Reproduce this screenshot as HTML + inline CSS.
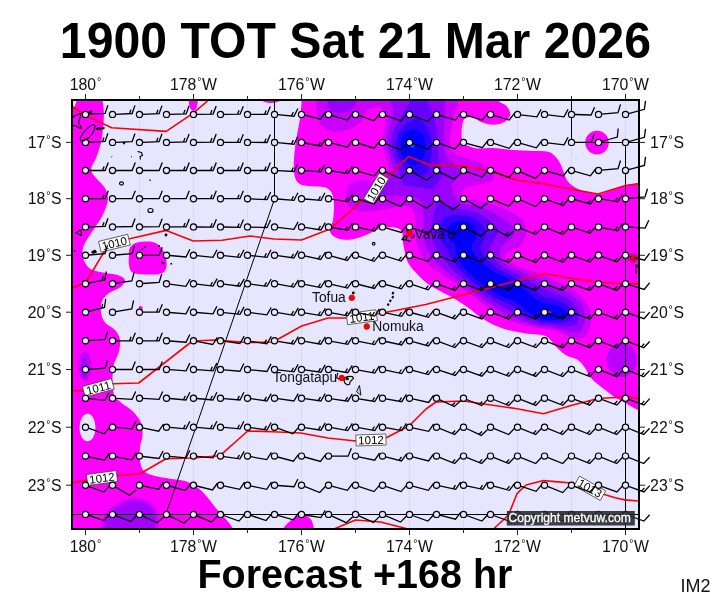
<!DOCTYPE html>
<html lang="en"><head><meta charset="utf-8"><title>1900 TOT Sat 21 Mar 2026 Forecast +168 hr</title>
<style>html,body{margin:0;padding:0;background:#fff}svg{display:block}</style></head>
<body>
<svg width="711" height="600" viewBox="0 0 711 600">
<defs>
<clipPath id="fr"><rect x="72" y="100" width="567" height="429"/></clipPath>
<clipPath id="mg"><path d="M301.7,85.0C269.6,87.5 302.0,94.5 301.7,100.0C301.4,105.5 301.1,110.0 300.0,118.0C298.9,126.0 296.0,139.1 295.0,148.0C294.0,156.9 293.4,165.5 294.0,171.3C294.6,177.1 295.6,180.5 298.3,183.0C301.0,185.5 305.3,185.5 310.0,186.3C314.7,187.1 322.8,186.1 326.7,188.0C330.6,189.9 332.2,193.0 333.3,198.0C334.4,203.0 333.9,212.4 333.3,218.0C332.8,223.6 329.4,228.0 330.0,231.3C330.6,234.6 333.4,236.6 336.7,238.0C340.0,239.4 345.0,240.2 350.0,239.7C355.0,239.1 361.7,236.5 366.7,234.7C371.7,232.9 375.6,229.9 380.0,228.7C384.4,227.5 389.7,226.9 393.3,227.3C396.9,227.7 400.0,228.4 401.7,231.3C403.4,234.2 402.2,239.5 403.3,244.7C404.4,249.9 405.6,257.4 408.0,262.5C410.4,267.6 414.7,271.4 418.0,275.0C421.3,278.6 424.3,281.3 428.0,284.0C431.7,286.7 435.5,288.5 440.0,291.0C444.5,293.5 450.0,296.0 455.0,299.0C460.0,302.0 465.8,306.0 470.0,309.0C474.2,312.0 476.3,314.5 480.0,317.0C483.7,319.5 487.3,321.8 492.0,324.0C496.7,326.2 502.0,328.4 508.0,330.0C514.0,331.6 521.8,332.7 528.0,333.7C534.2,334.7 540.9,333.9 545.5,336.0C550.1,338.1 552.2,342.8 555.5,346.0C558.8,349.2 561.8,352.7 565.5,355.0C569.2,357.3 574.7,357.7 578.0,360.0C581.3,362.3 583.4,365.8 585.5,368.7C587.6,371.6 588.1,374.6 590.5,377.5C592.9,380.4 596.1,382.8 600.0,386.0C603.9,389.2 609.5,393.5 614.0,396.5C618.5,399.5 623.0,401.8 627.0,404.0C631.0,406.2 633.3,408.0 638.0,410.0C642.7,412.0 651.3,434.3 655.0,416.0C658.7,397.7 660.0,338.7 660.0,300.0C660.0,261.3 658.7,203.3 655.0,184.0C651.3,164.7 642.9,183.8 638.0,184.0C633.1,184.2 630.1,184.4 625.5,185.5C620.9,186.6 614.7,189.1 610.5,190.5C606.3,191.9 603.8,193.6 600.5,194.0C597.2,194.4 594.2,193.8 590.5,193.0C586.8,192.2 581.8,190.9 578.0,189.0C574.2,187.1 570.3,184.4 568.0,181.7C565.7,179.0 565.2,175.9 564.0,173.0C562.8,170.1 561.9,166.7 560.5,164.0C559.1,161.3 557.6,158.8 555.5,156.7C553.4,154.6 551.8,152.6 548.0,151.7C544.2,150.8 538.8,151.3 533.0,151.0C527.2,150.7 519.7,150.5 513.0,150.0C506.3,149.5 498.8,148.2 493.0,148.0C487.2,147.8 481.8,148.8 478.0,148.5C474.2,148.2 472.5,147.5 470.0,146.5C467.5,145.5 464.4,144.9 463.0,142.3C461.6,139.7 461.4,134.8 461.6,131.0C461.8,127.2 462.3,121.8 464.0,119.5C465.7,117.2 469.0,116.6 471.8,117.0C474.6,117.4 478.0,120.8 481.0,122.0C484.0,123.2 487.0,124.2 490.0,124.5C493.0,124.8 496.2,124.7 499.0,124.0C501.8,123.3 504.8,122.2 506.7,120.5C508.6,118.8 510.3,116.4 510.3,114.0C510.3,111.6 508.6,108.3 506.5,106.0C504.4,103.7 500.1,103.5 498.0,100.0C495.9,96.5 526.7,87.5 494.0,85.0C461.3,82.5 333.8,82.5 301.7,85.0Z"/><path d="M60.0,90.0C67.2,15.0 95.9,88.3 103.0,90.0C110.1,91.7 102.5,96.8 102.6,100.0C102.7,103.2 103.5,105.6 103.7,109.0C103.9,112.4 103.9,116.7 103.7,120.5C103.5,124.3 103.0,128.1 102.6,131.8C102.1,135.6 102.0,138.8 101.0,143.0C100.0,147.2 98.1,152.3 96.5,157.0C94.9,161.7 90.2,166.5 91.5,171.4C92.8,176.3 101.2,182.0 104.0,186.6C106.8,191.2 108.2,194.3 108.0,199.0C107.8,203.7 105.1,209.8 103.0,214.5C100.9,219.2 98.3,222.2 95.3,227.0C92.3,231.8 87.1,238.8 85.0,243.0C82.9,247.2 82.7,249.2 82.5,252.0C82.3,254.8 82.5,257.2 83.7,260.0C85.0,262.8 86.9,266.6 90.0,268.7C93.1,270.8 97.9,271.4 102.5,272.5C107.1,273.6 113.8,273.8 117.5,275.0C121.2,276.2 124.6,277.9 125.0,280.0C125.4,282.1 122.5,285.4 120.0,287.5C117.5,289.6 112.9,290.4 110.0,292.5C107.1,294.6 104.0,296.7 102.5,300.0C101.0,303.3 100.6,308.8 101.0,312.5C101.4,316.2 102.7,319.6 105.0,322.5C107.3,325.4 112.5,327.1 115.0,330.0C117.5,332.9 119.4,336.2 120.0,340.0C120.6,343.8 119.8,348.3 118.7,352.5C117.7,356.7 114.7,360.4 113.7,365.0C112.7,369.6 112.6,375.8 112.5,380.0C112.4,384.2 112.8,387.2 113.2,390.0C113.6,392.8 113.5,394.7 115.0,397.0C116.5,399.3 119.6,401.4 122.5,403.7C125.4,406.0 129.4,407.9 132.5,411.0C135.6,414.1 139.3,418.5 141.0,422.5C142.7,426.5 142.7,430.8 142.5,435.0C142.3,439.2 140.4,443.3 140.0,447.5C139.6,451.7 139.4,456.1 140.0,460.0C140.6,463.9 141.2,468.3 143.7,471.0C146.2,473.7 150.6,474.7 155.0,476.0C159.4,477.3 165.0,477.9 170.0,478.7C175.0,479.5 180.4,479.5 185.0,481.0C189.6,482.5 193.8,484.8 197.5,487.5C201.2,490.2 204.2,493.8 207.5,497.5C210.8,501.2 214.2,506.1 217.5,510.0C220.8,513.9 225.0,518.0 227.5,521.0C230.0,524.0 230.8,524.8 232.5,528.0C234.2,531.2 266.8,538.0 238.0,540.0C209.2,542.0 89.7,615.0 60.0,540.0C30.3,465.0 52.8,165.0 60.0,90.0Z"/></clipPath>
<filter id="b1" x="-20%" y="-20%" width="140%" height="140%"><feGaussianBlur stdDeviation="1.6"/></filter>
<filter id="b2" x="-20%" y="-20%" width="140%" height="140%"><feGaussianBlur stdDeviation="2.2"/></filter>
<filter id="b0" x="-20%" y="-20%" width="140%" height="140%"><feGaussianBlur stdDeviation="0.6"/></filter>
</defs>
<rect width="711" height="600" fill="#fff"/>
<g clip-path="url(#fr)">
<rect x="72" y="100" width="567" height="429" fill="#e6e6ff"/>
<path d="M85.5,100V529M139.5,100V529M193.5,100V529M247.5,100V529M301.5,100V529M355.5,100V529M409.5,100V529M463.5,100V529M517.5,100V529M571.5,100V529M625.5,100V529" stroke="#9090a8" stroke-width="1" stroke-dasharray="1,1" fill="none" opacity="0.3"/>
<g fill="#ff00ff">
<path d="M60.0,90.0C67.2,15.0 95.9,88.3 103.0,90.0C110.1,91.7 102.5,96.8 102.6,100.0C102.7,103.2 103.5,105.6 103.7,109.0C103.9,112.4 103.9,116.7 103.7,120.5C103.5,124.3 103.0,128.1 102.6,131.8C102.1,135.6 102.0,138.8 101.0,143.0C100.0,147.2 98.1,152.3 96.5,157.0C94.9,161.7 90.2,166.5 91.5,171.4C92.8,176.3 101.2,182.0 104.0,186.6C106.8,191.2 108.2,194.3 108.0,199.0C107.8,203.7 105.1,209.8 103.0,214.5C100.9,219.2 98.3,222.2 95.3,227.0C92.3,231.8 87.1,238.8 85.0,243.0C82.9,247.2 82.7,249.2 82.5,252.0C82.3,254.8 82.5,257.2 83.7,260.0C85.0,262.8 86.9,266.6 90.0,268.7C93.1,270.8 97.9,271.4 102.5,272.5C107.1,273.6 113.8,273.8 117.5,275.0C121.2,276.2 124.6,277.9 125.0,280.0C125.4,282.1 122.5,285.4 120.0,287.5C117.5,289.6 112.9,290.4 110.0,292.5C107.1,294.6 104.0,296.7 102.5,300.0C101.0,303.3 100.6,308.8 101.0,312.5C101.4,316.2 102.7,319.6 105.0,322.5C107.3,325.4 112.5,327.1 115.0,330.0C117.5,332.9 119.4,336.2 120.0,340.0C120.6,343.8 119.8,348.3 118.7,352.5C117.7,356.7 114.7,360.4 113.7,365.0C112.7,369.6 112.6,375.8 112.5,380.0C112.4,384.2 112.8,387.2 113.2,390.0C113.6,392.8 113.5,394.7 115.0,397.0C116.5,399.3 119.6,401.4 122.5,403.7C125.4,406.0 129.4,407.9 132.5,411.0C135.6,414.1 139.3,418.5 141.0,422.5C142.7,426.5 142.7,430.8 142.5,435.0C142.3,439.2 140.4,443.3 140.0,447.5C139.6,451.7 139.4,456.1 140.0,460.0C140.6,463.9 141.2,468.3 143.7,471.0C146.2,473.7 150.6,474.7 155.0,476.0C159.4,477.3 165.0,477.9 170.0,478.7C175.0,479.5 180.4,479.5 185.0,481.0C189.6,482.5 193.8,484.8 197.5,487.5C201.2,490.2 204.2,493.8 207.5,497.5C210.8,501.2 214.2,506.1 217.5,510.0C220.8,513.9 225.0,518.0 227.5,521.0C230.0,524.0 230.8,524.8 232.5,528.0C234.2,531.2 266.8,538.0 238.0,540.0C209.2,542.0 89.7,615.0 60.0,540.0C30.3,465.0 52.8,165.0 60.0,90.0Z"/>
<path d="M301.7,85.0C269.6,87.5 302.0,94.5 301.7,100.0C301.4,105.5 301.1,110.0 300.0,118.0C298.9,126.0 296.0,139.1 295.0,148.0C294.0,156.9 293.4,165.5 294.0,171.3C294.6,177.1 295.6,180.5 298.3,183.0C301.0,185.5 305.3,185.5 310.0,186.3C314.7,187.1 322.8,186.1 326.7,188.0C330.6,189.9 332.2,193.0 333.3,198.0C334.4,203.0 333.9,212.4 333.3,218.0C332.8,223.6 329.4,228.0 330.0,231.3C330.6,234.6 333.4,236.6 336.7,238.0C340.0,239.4 345.0,240.2 350.0,239.7C355.0,239.1 361.7,236.5 366.7,234.7C371.7,232.9 375.6,229.9 380.0,228.7C384.4,227.5 389.7,226.9 393.3,227.3C396.9,227.7 400.0,228.4 401.7,231.3C403.4,234.2 402.2,239.5 403.3,244.7C404.4,249.9 405.6,257.4 408.0,262.5C410.4,267.6 414.7,271.4 418.0,275.0C421.3,278.6 424.3,281.3 428.0,284.0C431.7,286.7 435.5,288.5 440.0,291.0C444.5,293.5 450.0,296.0 455.0,299.0C460.0,302.0 465.8,306.0 470.0,309.0C474.2,312.0 476.3,314.5 480.0,317.0C483.7,319.5 487.3,321.8 492.0,324.0C496.7,326.2 502.0,328.4 508.0,330.0C514.0,331.6 521.8,332.7 528.0,333.7C534.2,334.7 540.9,333.9 545.5,336.0C550.1,338.1 552.2,342.8 555.5,346.0C558.8,349.2 561.8,352.7 565.5,355.0C569.2,357.3 574.7,357.7 578.0,360.0C581.3,362.3 583.4,365.8 585.5,368.7C587.6,371.6 588.1,374.6 590.5,377.5C592.9,380.4 596.1,382.8 600.0,386.0C603.9,389.2 609.5,393.5 614.0,396.5C618.5,399.5 623.0,401.8 627.0,404.0C631.0,406.2 633.3,408.0 638.0,410.0C642.7,412.0 651.3,434.3 655.0,416.0C658.7,397.7 660.0,338.7 660.0,300.0C660.0,261.3 658.7,203.3 655.0,184.0C651.3,164.7 642.9,183.8 638.0,184.0C633.1,184.2 630.1,184.4 625.5,185.5C620.9,186.6 614.7,189.1 610.5,190.5C606.3,191.9 603.8,193.6 600.5,194.0C597.2,194.4 594.2,193.8 590.5,193.0C586.8,192.2 581.8,190.9 578.0,189.0C574.2,187.1 570.3,184.4 568.0,181.7C565.7,179.0 565.2,175.9 564.0,173.0C562.8,170.1 561.9,166.7 560.5,164.0C559.1,161.3 557.6,158.8 555.5,156.7C553.4,154.6 551.8,152.6 548.0,151.7C544.2,150.8 538.8,151.3 533.0,151.0C527.2,150.7 519.7,150.5 513.0,150.0C506.3,149.5 498.8,148.2 493.0,148.0C487.2,147.8 481.8,148.8 478.0,148.5C474.2,148.2 472.5,147.5 470.0,146.5C467.5,145.5 464.4,144.9 463.0,142.3C461.6,139.7 461.4,134.8 461.6,131.0C461.8,127.2 462.3,121.8 464.0,119.5C465.7,117.2 469.0,116.6 471.8,117.0C474.6,117.4 478.0,120.8 481.0,122.0C484.0,123.2 487.0,124.2 490.0,124.5C493.0,124.8 496.2,124.7 499.0,124.0C501.8,123.3 504.8,122.2 506.7,120.5C508.6,118.8 510.3,116.4 510.3,114.0C510.3,111.6 508.6,108.3 506.5,106.0C504.4,103.7 500.1,103.5 498.0,100.0C495.9,96.5 526.7,87.5 494.0,85.0C461.3,82.5 333.8,82.5 301.7,85.0Z"/>
<path d="M130.0,247.5C131.4,245.4 133.8,243.4 137.5,242.5C141.2,241.6 148.6,241.2 152.5,242.0C156.4,242.8 158.8,244.9 161.0,247.5C163.2,250.1 165.2,254.0 166.0,257.5C166.8,261.0 167.0,266.0 166.0,268.7C165.0,271.4 163.5,272.7 160.0,273.7C156.5,274.7 149.6,274.7 145.0,274.5C140.4,274.3 135.2,274.1 132.5,272.5C129.8,270.9 129.6,267.9 129.0,265.0C128.4,262.1 128.8,257.9 129.0,255.0C129.2,252.1 128.6,249.6 130.0,247.5Z"/>
<path d="M280.0,540.0C274.5,538.1 280.8,532.2 283.0,528.7C285.2,525.2 289.9,521.0 293.0,518.7C296.1,516.4 298.8,515.0 301.7,515.0C304.6,515.0 308.4,516.4 310.5,518.7C312.6,521.0 313.1,525.2 314.0,528.7C314.9,532.2 321.7,538.1 316.0,540.0C310.3,541.9 285.5,541.9 280.0,540.0Z"/>
<ellipse cx="193.3" cy="100" rx="4.6" ry="10.8"/>
<ellipse cx="271" cy="100" rx="9" ry="3"/>
<circle cx="140.7" cy="308" r="2"/>
<circle cx="597" cy="142.6" r="11.8"/>
</g>
<ellipse cx="87.5" cy="427.5" rx="8.0" ry="13.7" fill="#e6e6ff"/>
<path d="M73,101h3.6l-2,5.6l-1.6,0.6z" fill="#dde6e0"/>
<g clip-path="url(#mg)">
<g filter="url(#b0)">
<path d="M316.0,40.0C292.3,50.0 315.8,87.4 316.0,100.0C316.2,112.6 316.4,111.0 317.5,115.5C318.6,120.0 319.6,124.0 322.5,126.7C325.4,129.4 330.4,131.3 335.0,131.7C339.6,132.1 345.8,130.4 350.0,129.0C354.2,127.5 357.5,125.7 360.0,123.0C362.5,120.3 363.0,115.5 365.0,113.0C367.0,110.5 369.5,108.8 372.0,108.0C374.5,107.2 377.7,106.8 380.0,108.0C382.3,109.2 385.3,111.3 386.0,115.0C386.7,118.7 384.6,125.3 384.0,130.0C383.4,134.7 382.3,138.8 382.5,143.0C382.7,147.2 384.1,151.7 385.0,155.0C385.9,158.3 387.5,160.5 388.0,163.0C388.5,165.5 389.3,167.8 388.0,170.0C386.7,172.2 382.7,174.2 380.0,176.0C377.3,177.8 374.9,179.8 372.0,180.5C369.1,181.2 366.0,179.6 362.5,180.0C359.0,180.4 353.7,181.3 351.0,183.0C348.3,184.7 347.1,186.8 346.5,190.0C345.9,193.2 346.7,198.8 347.5,202.0C348.3,205.2 349.0,207.4 351.5,209.0C354.0,210.6 358.2,211.2 362.5,211.5C366.8,211.8 372.3,211.1 377.0,210.5C381.7,209.9 386.3,208.8 390.6,208.0C394.9,207.2 399.6,206.0 403.0,206.0C406.4,206.0 409.0,206.3 411.0,208.0C413.0,209.7 414.2,212.7 415.0,216.0C415.8,219.3 415.3,224.3 415.5,228.0C415.7,231.7 415.6,234.8 416.0,238.0C416.4,241.2 417.0,244.0 418.0,247.0C419.0,250.0 420.2,253.0 422.0,256.0C423.8,259.0 426.5,262.4 429.0,265.0C431.5,267.6 434.2,269.4 437.0,271.5C439.8,273.6 442.5,275.2 446.0,277.5C449.5,279.8 454.0,282.2 458.0,285.0C462.0,287.8 465.8,290.8 470.0,294.0C474.2,297.2 478.5,300.7 483.0,304.0C487.5,307.3 492.2,311.1 497.0,314.0C501.8,316.9 505.7,319.2 512.0,321.5C518.3,323.8 528.2,326.1 535.0,327.5C541.8,328.9 547.9,328.8 553.0,330.0C558.1,331.2 561.3,333.5 565.5,335.0C569.7,336.5 574.6,339.0 578.0,339.0C581.4,339.0 583.9,337.3 586.0,335.0C588.1,332.7 589.8,328.8 590.5,325.0C591.2,321.2 591.4,316.2 590.5,312.0C589.6,307.8 587.6,303.5 585.0,300.0C582.4,296.5 579.1,293.8 575.0,291.0C570.9,288.2 565.8,285.7 560.5,283.0C555.2,280.3 548.4,277.2 543.0,275.0C537.6,272.8 532.7,271.7 528.0,270.0C523.3,268.3 518.5,266.7 515.0,265.0C511.5,263.3 508.7,261.7 507.0,260.0C505.3,258.3 504.5,256.5 505.0,255.0C505.5,253.5 507.7,252.3 510.0,251.0C512.3,249.7 516.7,248.8 519.0,247.0C521.3,245.2 522.8,242.8 524.0,240.0C525.2,237.2 526.3,233.5 526.0,230.0C525.7,226.5 524.8,222.2 522.0,219.0C519.2,215.8 513.8,213.4 509.0,211.0C504.2,208.6 498.2,206.3 493.0,204.5C487.8,202.7 482.5,200.9 478.0,200.0C473.5,199.1 468.7,200.2 466.0,199.0C463.3,197.8 461.8,194.4 462.0,192.5C462.2,190.6 464.4,188.6 467.0,187.3C469.6,186.0 473.7,185.5 477.4,184.7C481.1,183.8 486.4,183.6 489.2,182.2C492.0,180.8 494.0,178.6 494.3,176.3C494.6,174.1 493.7,171.1 490.9,168.7C488.1,166.3 481.9,163.9 477.4,161.9C472.9,159.9 468.1,158.7 463.9,156.9C459.7,155.1 454.3,153.8 452.0,151.0C449.7,148.2 450.0,144.3 450.0,140.0C450.0,135.7 451.0,130.0 452.0,125.0C453.0,120.0 455.0,114.2 456.0,110.0C457.0,105.8 457.7,111.7 458.0,100.0C458.3,88.3 481.7,50.0 458.0,40.0C434.3,30.0 339.7,30.0 316.0,40.0Z" fill="#cc00ff"/>
<ellipse cx="621.7" cy="360.0" rx="15.0" ry="17.0" fill="#bb00ff"/>
<ellipse cx="85.2" cy="366.0" rx="6.5" ry="15.0" fill="#c800ff"/>
<ellipse cx="84.2" cy="368.0" rx="3.6" ry="10.5" fill="#a000ff"/>
<path d="M101.0,540.0C91.6,538.0 100.3,532.2 101.0,528.0C101.7,523.8 102.7,518.8 105.0,515.0C107.3,511.2 110.8,507.7 115.0,505.0C119.2,502.3 125.0,499.5 130.0,498.7C135.0,497.9 140.8,498.5 145.0,500.0C149.2,501.5 152.7,504.6 155.0,507.5C157.3,510.4 158.3,514.1 158.7,517.5C159.1,520.9 157.7,524.2 157.5,528.0C157.3,531.8 166.9,538.0 157.5,540.0C148.1,542.0 110.4,542.0 101.0,540.0Z" fill="#cc00ff"/>
</g>
<path d="M104.0,540.0C95.6,538.0 103.3,531.9 104.0,528.0C104.7,524.1 105.8,519.9 108.0,516.5C110.2,513.1 113.3,510.0 117.0,507.5C120.7,505.0 125.5,502.3 130.0,501.5C134.5,500.7 140.2,501.2 144.0,502.5C147.8,503.8 150.6,506.4 152.5,509.0C154.4,511.6 155.2,514.8 155.5,518.0C155.8,521.2 154.7,524.3 154.5,528.0C154.3,531.7 162.9,538.0 154.5,540.0C146.1,542.0 112.4,542.0 104.0,540.0Z" fill="#a200ff" filter="url(#b0)"/>
<g filter="url(#b0)">
<path d="M327.5,85.0C322.5,87.5 327.3,96.2 327.5,100.0C327.7,103.8 327.0,105.8 328.7,108.0C330.4,110.2 333.9,112.6 337.5,113.0C341.1,113.4 346.9,112.0 350.0,110.5C353.1,109.0 354.8,105.8 356.0,104.0C357.2,102.2 357.2,103.2 357.5,100.0C357.8,96.8 362.5,87.5 357.5,85.0C352.5,82.5 332.5,82.5 327.5,85.0Z" fill="#9900ff"/>
<path d="M578.3,332.4L571.0,331.9L565.7,330.9L554.3,327.8L539.3,326.2L531.3,324.1L520.3,320.4L516.0,318.6L501.0,311.2L494.0,307.1L478.4,296.0L465.4,285.7L445.7,271.0L438.3,264.3L433.7,259.0L429.3,252.8L427.0,248.7L425.6,245.0L423.8,237.7L423.3,226.0L423.9,214.3L423.4,208.7L422.3,203.7L421.3,201.6L414.5,197.7L407.7,196.1L399.0,195.5L379.7,195.9L375.7,195.3L381.0,190.1L390.3,178.1L392.1,174.7L393.0,171.1L393.1,169.0L392.5,165.3L389.1,155.3L387.5,149.0L386.8,141.7L387.0,138.7L388.2,132.0L389.6,126.3L391.7,120.0L392.9,114.3L393.0,109.7L392.5,106.7L389.0,99.5L387.0,97.0L383.3,93.6L380.0,91.8L374.3,90.3L368.3,89.8L365.3,90.1L360.0,91.6L354.6,94.3L347.3,100.7L345.5,103.3L343.1,108.3L342.0,108.7L339.7,108.5L339.1,107.0L340.0,96.3L340.1,89.7L338.5,68.0L338.8,66.7L341.7,65.6L355.0,62.2L370.7,59.2L396.3,56.9L403.7,56.6L419.3,57.3L433.7,59.1L443.5,61.3L444.0,63.7L444.3,70.3L444.0,91.7L445.2,102.7L443.9,136.0L444.5,149.3L446.3,155.0L449.3,159.7L463.4,171.7L464.2,172.7L457.0,178.3L452.5,183.7L451.9,186.3L451.8,189.0L453.8,195.3L457.4,200.0L461.7,203.0L465.7,204.4L476.0,205.5L481.3,207.1L488.0,210.0L493.9,213.0L504.3,219.5L512.0,225.9L513.3,228.0L513.8,231.0L513.6,233.0L512.5,236.7L511.7,237.8L503.7,244.0L501.4,247.0L500.0,250.1L499.6,254.3L500.3,257.7L501.3,259.7L502.6,261.3L505.2,263.7L512.1,267.7L537.7,278.7L548.7,284.2L563.7,290.4L570.9,294.3L577.3,299.3L580.3,302.7L583.3,308.3L584.7,313.0L585.1,316.3L584.8,321.3L583.1,327.0L580.9,330.7L579.7,331.8Z" fill="#9900ff" fill-rule="evenodd"/>
<path d="M433.3,189.1L432.3,189.3L425.0,188.3L404.7,185.2L403.2,184.7L399.0,170.3L393.2,154.7L391.7,148.0L391.3,143.3L391.6,138.7L393.0,133.0L394.7,127.9L407.3,106.1L417.6,89.0L418.3,88.4L419.7,89.7L426.0,98.7L431.3,110.4L435.0,122.0L437.2,133.3L438.6,155.3L439.8,163.0L442.5,175.0L442.0,176.3ZM568.3,326.3L563.0,326.3L539.7,323.7L532.3,321.4L522.3,317.0L511.3,310.9L497.3,304.0L487.3,297.7L475.7,289.0L454.0,271.0L446.7,263.3L436.1,248.3L434.1,244.7L432.3,239.0L431.5,233.3L431.8,224.0L435.1,209.3L437.3,202.3L438.3,202.0L446.7,205.0L459.9,209.0L475.3,211.8L479.3,213.4L485.0,216.7L490.7,221.2L495.5,226.3L499.1,231.3L491.7,244.0L490.2,247.3L490.5,249.7L491.6,253.3L495.1,259.7L498.8,264.0L503.3,267.4L526.0,278.8L544.3,289.4L548.7,291.2L556.0,293.2L563.0,296.1L568.2,299.0L573.3,303.2L575.8,306.0L578.0,311.0L578.7,316.0L578.3,320.0L577.3,323.0L576.3,324.7L573.3,325.6Z" fill="#6600ff" fill-rule="evenodd"/>
<path d="M421.7,175.4L418.3,175.4L412.7,173.9L408.3,171.3L403.7,166.8L400.5,162.0L398.4,157.7L397.1,153.7L396.0,147.0L395.8,142.0L396.4,138.0L398.6,132.0L400.6,129.0L404.0,125.4L409.3,121.4L414.7,119.3L418.3,118.7L420.0,119.2L424.0,122.9L427.7,128.2L430.7,135.7L431.6,141.0L431.8,146.0L431.4,155.7L429.6,165.3L428.0,169.8L425.6,173.7L424.3,174.7ZM562.0,322.7L558.0,322.8L543.3,321.9L537.3,320.4L531.0,317.7L525.0,314.1L514.0,306.8L509.7,304.5L501.0,300.9L492.7,296.4L482.7,289.7L468.4,278.0L458.7,268.7L455.0,264.3L452.5,260.7L448.7,253.3L447.3,248.7L443.8,245.3L441.5,241.3L439.8,235.3L439.6,229.0L441.0,223.0L443.6,217.7L446.9,216.3L454.0,214.9L464.7,215.5L470.3,216.6L474.0,217.9L479.7,221.9L484.1,227.3L486.2,232.3L485.3,236.7L480.5,247.3L481.2,250.0L482.7,253.3L486.6,259.0L491.7,264.1L497.0,268.4L522.0,281.8L540.7,294.7L544.0,296.4L547.0,297.4L554.3,298.8L558.7,300.1L564.3,302.9L566.5,304.3L570.1,307.7L571.4,309.7L572.2,312.3L572.3,316.7L571.3,318.3L568.3,320.8L565.3,322.0Z" fill="#3300ff" fill-rule="evenodd"/>
<path d="M414.3,165.7L410.8,165.0L409.0,164.1L406.3,162.3L404.1,159.7L402.2,156.3L401.1,153.0L400.3,146.7L400.7,139.7L403.0,134.5L407.1,131.0L412.0,128.9L416.0,129.3L420.0,131.5L421.8,133.3L423.7,136.3L424.6,138.3L425.4,142.0L425.4,150.3L424.7,154.3L422.7,159.3L420.7,162.7L419.3,163.8L417.0,165.2ZM558.3,319.7L547.7,319.9L544.0,319.5L538.7,318.0L535.8,316.7L530.3,313.5L523.7,307.7L517.0,302.8L511.7,300.0L502.5,296.7L495.3,293.2L491.3,290.8L480.5,283.0L471.0,274.9L466.0,269.9L462.4,265.7L459.7,261.6L458.0,258.3L455.7,251.3L455.5,247.3L454.9,244.3L454.0,243.0L450.3,240.7L449.0,238.5L447.6,233.7L447.5,230.7L448.6,227.0L450.0,224.7L455.7,221.5L459.7,220.9L466.3,221.4L470.3,223.0L472.7,224.7L474.3,226.4L475.5,228.3L476.4,230.3L476.8,233.7L475.3,238.7L472.5,243.0L471.6,246.3L471.6,248.3L474.6,255.0L478.3,259.9L485.7,266.3L494.7,272.2L505.0,277.0L519.2,285.3L536.0,299.2L540.7,302.1L546.7,303.8L553.0,304.3L556.0,305.0L558.3,305.9L563.0,308.4L566.1,311.7L566.2,315.0L564.8,317.3L563.4,318.3L561.7,319.1Z" fill="#0000ff" fill-rule="evenodd"/>
</g>
<circle cx="412.5" cy="146" r="2" fill="#0055ff"/>
</g>
</g>
<g clip-path="url(#fr)" fill="none" stroke="#000" stroke-width="1">
<path d="M72,514.5H640M625.5,142.5V529M571.5,100V142.5H640M274.5,100V199L165.8,514.5"/>
</g>
<g clip-path="url(#fr)" fill="none" stroke="#ff0000" stroke-width="1.6" stroke-linejoin="round">
<path d="M72.8,107.0L84.6,114.9L111.6,127.8L166.2,131.4L193.3,113.2L208.7,100.0L215.0,94.0"/>
<path d="M72.0,287.8L85.5,283.0L103.7,252.5L110.0,241.0L130.8,238.5L166.2,230.4L193.3,241.0L222.0,240.3L250.0,236.0L274.0,239.0L301.5,240.0L330.0,229.0L354.0,208.0L408.7,156.7L430.0,165.0L461.6,165.8L490.8,171.4L517.3,180.3L544.0,183.7L570.5,189.0L598.0,194.0L625.5,185.5L640.0,183.5"/>
<path d="M72.0,390.5L85.0,391.0L113.7,383.7L138.7,383.0L192.5,341.0L215.0,340.0L248.0,342.5L273.0,342.0L301.7,326.0L328.0,318.0L348.0,318.0L378.0,313.7L398.0,310.0L425.7,304.5L478.0,291.0L544.0,273.7L598.0,282.5L625.5,283.7L640.0,283.7"/>
<path d="M72.0,482.7L87.5,480.0L117.5,475.5L140.0,473.7L166.0,458.7L192.5,458.0L220.0,455.7L247.7,431.0L273.0,431.7L300.5,433.0L328.0,438.0L355.5,441.0L386.7,437.5L409.0,426.0L426.0,409.0L436.0,402.0L463.5,401.0L517.0,408.7L543.5,413.7L571.0,405.5L598.0,398.5L625.5,397.0L640.0,398.7"/>
<path d="M493.5,529.0L508.5,515.0L517.0,493.7L526.0,485.0L543.5,480.5L555.0,481.6L571.9,483.0L590.0,488.0L604.5,494.5L615.0,497.8L624.8,499.9L640.0,501.0"/>
<path d="M334.0,529.0L355.5,520.0L380.5,522.0L408.0,529.0"/>
<path d="M541.0,311.2L551.5,312.3"/>
</g>
<g font-family="'Liberation Sans',sans-serif">
<g transform="translate(114.4 243.2) rotate(-13.8)"><rect x="-15.0" y="-5.5" width="30.0" height="11.0" fill="#fff" stroke="#333" stroke-width="0.7"/><text x="0" y="4.1" text-anchor="middle" font-size="11.5" fill="#000">1010</text></g>
<g transform="translate(376.2 188.7) rotate(-58.5)"><rect x="-15.0" y="-5.5" width="30.0" height="11.0" fill="#fff" stroke="#333" stroke-width="0.7"/><text x="0" y="4.1" text-anchor="middle" font-size="11.5" fill="#000">1010</text></g>
<g transform="translate(361.8 317.2) rotate(-7.8)"><rect x="-15.0" y="-5.5" width="30.0" height="11.0" fill="#fff" stroke="#333" stroke-width="0.7"/><text x="0" y="4.1" text-anchor="middle" font-size="11.5" fill="#000">1011</text></g>
<g transform="translate(98.3 387.8) rotate(-15.2)"><rect x="-15.0" y="-5.5" width="30.0" height="11.0" fill="#fff" stroke="#333" stroke-width="0.7"/><text x="0" y="4.1" text-anchor="middle" font-size="11.5" fill="#000">1011</text></g>
<g transform="translate(102.0 478.0) rotate(-7.5)"><rect x="-15.0" y="-5.5" width="30.0" height="11.0" fill="#fff" stroke="#333" stroke-width="0.7"/><text x="0" y="4.1" text-anchor="middle" font-size="11.5" fill="#000">1012</text></g>
<g transform="translate(371.0 440.0) rotate(-2)"><rect x="-15.0" y="-5.5" width="30.0" height="11.0" fill="#fff" stroke="#333" stroke-width="0.7"/><text x="0" y="4.1" text-anchor="middle" font-size="11.5" fill="#000">1012</text></g>
<g transform="translate(589.9 488.3) rotate(29.5)"><rect x="-15.0" y="-5.5" width="30.0" height="11.0" fill="#fff" stroke="#333" stroke-width="0.7"/><text x="0" y="4.1" text-anchor="middle" font-size="11.5" fill="#000">1013</text></g>
</g>
<path d="M88.7,114.2L105.1,113.4L107.9,105.2M115.7,114.3L132.1,113.5L135.0,105.4M129.5,113.7L130.9,109.6M142.7,114.3L159.1,113.7L162.0,105.6M156.5,113.8L158.0,109.8M169.7,114.3L186.1,113.9L189.1,105.8M183.5,114.0L185.0,109.9M196.7,114.3L213.1,114.1L216.2,106.0M210.5,114.1L212.0,110.1M223.7,114.4L240.1,114.2L243.3,106.2M237.5,114.3L239.1,110.3M250.7,114.4L267.1,114.4L270.3,106.5M264.5,114.4L266.1,110.4M277.7,114.7L294.0,116.2L297.9,108.5M291.4,115.9L293.4,112.1M304.6,115.2L320.5,119.2L325.6,112.2M331.6,115.3L347.2,120.1L352.7,113.5M358.5,115.4L374.0,120.8L379.7,114.3M385.5,115.4L401.0,120.8L406.7,114.3M412.5,115.6L427.7,121.6L433.7,115.3M439.6,115.3L455.3,120.1L460.7,113.4M466.6,115.3L482.3,120.0L487.7,113.3M493.6,115.3L509.3,120.0L514.6,113.2M520.7,114.8L537.0,116.8L541.1,109.3M547.7,114.8L564.0,116.8L568.1,109.2M574.7,114.5L591.1,115.0L594.6,107.2M601.7,114.1L618.0,112.6L620.5,104.4M628.6,113.6L644.4,109.3L645.5,100.8M88.7,142.3L105.1,141.4L107.9,133.3M102.5,141.5L103.9,137.5M115.7,142.3L132.1,141.6L135.0,133.5M142.7,142.3L159.1,141.7L162.0,133.7M156.5,141.8L158.0,137.8M169.7,142.3L186.1,141.9L189.1,133.9M183.5,142.0L185.0,137.9M196.7,142.4L213.1,142.1L216.2,134.1M210.5,142.1L212.0,138.1M223.7,142.4L240.1,142.3L243.3,134.2M237.5,142.3L239.1,138.3M250.7,142.4L267.1,142.5L270.3,134.5M264.5,142.4L266.1,138.5M277.7,142.7L294.0,144.2L297.9,136.5M291.4,143.9L293.4,140.1M304.6,143.0L320.7,146.2L325.4,139.0M318.2,145.7L320.5,142.1M331.6,143.2L347.5,147.2L352.6,140.2M358.6,143.4L374.2,148.2L379.7,141.5M385.4,143.7L400.5,150.1L406.6,144.0M412.5,143.5L427.9,149.3L433.7,142.9M439.5,143.5L455.0,148.9L460.7,142.5M466.6,143.3L482.4,147.7L487.6,140.9M493.6,143.4L509.2,148.3L514.7,141.7M520.6,143.3L536.4,147.8L541.6,141.0M547.7,142.8L564.0,144.8L568.1,137.2M574.7,142.4L591.1,142.3L594.3,134.3M601.6,141.5L617.3,137.0L618.2,128.5M628.6,141.6L644.4,137.3L645.5,128.8M88.7,170.5L105.1,170.5L108.3,162.5M102.5,170.5L104.1,166.5M115.7,170.5L132.1,170.5L135.3,162.5M142.7,170.5L159.1,170.5L162.3,162.5M169.7,170.5L186.1,170.5L189.3,162.5M183.5,170.5L185.1,166.5M196.7,170.5L213.1,170.5L216.3,162.5M210.5,170.5L212.1,166.5M223.7,170.5L240.1,170.5L243.3,162.5M237.5,170.5L239.1,166.5M250.7,170.5L267.1,170.5L270.3,162.6M264.5,170.5L266.1,166.5M277.7,170.7L294.1,171.5L297.7,163.8M291.5,171.4L293.3,167.5M304.7,170.7L321.1,171.9L324.8,164.2M318.5,171.7L320.3,167.9M331.7,171.0L347.9,173.6L352.3,166.3M345.3,173.2L347.5,169.5M358.6,171.4L374.3,176.0L379.6,169.2M385.4,171.8L400.4,178.5L406.6,172.6M412.3,172.1L426.5,180.3L433.3,175.0M439.4,171.9L454.1,179.1L460.5,173.3M466.5,171.6L482.0,177.1L487.7,170.6M493.5,171.6L508.9,177.4L514.7,171.1M520.4,171.8L535.4,178.4L541.6,172.4M547.6,171.4L563.3,175.9L568.6,169.1M574.6,171.4L590.4,175.8L595.6,169.0M601.7,170.2L618.0,168.7L620.5,160.5M628.6,169.7L644.4,165.4L645.5,156.9M88.7,198.7L105.1,198.7L108.3,190.7M102.5,198.7L104.1,194.7M115.7,198.7L132.1,198.7L135.3,190.7M142.7,198.7L159.1,198.7L162.3,190.7M169.7,198.7L186.1,198.7L189.3,190.7M196.7,198.7L213.1,198.7L216.3,190.7M210.5,198.7L212.1,194.7M223.7,198.7L240.1,198.7L243.3,190.7M237.5,198.7L239.1,194.7M250.7,198.9L267.1,199.7L270.7,191.9M264.5,199.6L266.3,195.7M277.7,199.0L294.0,200.4L297.9,192.7M291.4,200.2L293.4,196.3M304.7,199.0L321.0,200.4L324.9,192.8M318.4,200.2L320.4,196.4M331.7,199.2L347.9,201.8L352.3,194.4M345.3,201.4L347.5,197.7M358.6,199.5L374.4,203.8L379.6,197.0M385.4,199.9L400.5,206.4L406.6,200.3M412.3,200.3L426.5,208.4L433.3,203.1M439.2,200.4L452.9,209.5L459.9,204.6M466.3,200.3L480.6,208.3L487.3,202.9M493.4,199.9L508.6,206.3L514.6,200.2M520.4,200.0L535.4,206.6L541.6,200.7M547.5,199.8L562.9,205.5L568.7,199.2M560.4,204.6L563.3,201.4M574.6,199.6L590.4,204.0L595.6,197.3M587.9,203.3L590.5,199.9M601.7,199.2L617.8,201.8L622.3,194.5M615.3,201.4L617.5,197.7M628.7,198.4L645.0,197.0L647.5,188.8M88.7,226.8L105.1,226.3L108.0,218.2M102.5,226.3L104.0,222.3M115.7,226.9L132.1,226.5L135.1,218.4M142.7,226.9L159.1,226.7L162.2,218.7M169.7,226.9L186.1,226.9L189.3,219.0M183.5,226.9L185.1,223.0M196.7,227.0L213.1,227.2L216.4,219.2M210.5,227.1L212.2,223.2M223.7,227.0L240.1,227.4L243.5,219.5M237.5,227.3L239.2,223.4M250.7,227.1L267.1,227.7L270.6,219.8M264.5,227.6L266.2,223.6M277.7,227.3L294.0,229.3L298.1,221.8M304.7,227.4L320.9,230.0L325.3,222.6M318.3,229.6L320.5,225.9M331.7,227.5L347.8,230.4L352.4,223.1M345.2,229.9L347.5,226.3M358.6,227.6L374.7,231.0L379.5,223.9M372.1,230.5L374.5,226.9M385.6,227.8L401.3,232.4L406.6,225.6M412.5,228.0L427.9,233.7L433.7,227.3M439.5,228.1L454.7,234.3L460.6,228.1M466.3,228.4L480.8,236.1L487.4,230.6M493.3,228.5L507.7,236.4L514.3,231.0M505.4,235.1L508.7,232.4M520.4,228.2L535.5,234.6L541.6,228.5M533.1,233.6L536.2,230.5M547.4,228.2L562.6,234.6L568.6,228.5M560.2,233.6L563.2,230.5M574.5,228.0L590.0,233.3L595.7,226.8M587.6,232.4L590.4,229.2M601.6,227.6L617.7,230.8L622.5,223.6M615.2,230.3L617.5,226.7M628.7,227.1L645.1,228.1L648.8,220.3M88.7,255.0L105.0,253.6L107.5,245.3M115.7,255.0L132.0,253.6L134.6,245.4M142.7,255.3L159.1,255.3L162.3,247.3M169.7,255.5L186.0,257.0L189.9,249.3M196.7,255.6L213.0,257.3L217.0,249.7M223.7,255.6L240.0,257.3L244.0,249.7M237.4,257.0L239.4,253.2M250.7,255.6L267.0,257.3L271.0,249.7M264.4,257.1L266.4,253.3M277.7,255.7L293.9,258.0L298.2,250.6M291.3,257.7L293.5,253.9M304.6,255.9L320.7,259.4L325.5,252.2M318.1,258.8L320.5,255.3M331.6,256.1L347.4,260.4L352.6,253.5M344.9,259.7L347.5,256.3M358.5,256.3L374.1,261.3L379.7,254.7M371.7,260.5L374.4,257.2M385.6,256.2L401.2,261.0L406.7,254.3M398.8,260.2L401.5,256.9M412.5,256.3L428.1,261.3L433.7,254.8M439.5,256.4L454.9,262.0L460.7,255.6M452.5,261.1L455.4,257.9M466.5,256.4L481.9,262.0L487.7,255.6M479.5,261.1L482.4,257.9M493.5,256.5L508.7,262.6L514.6,256.4M506.3,261.6L509.2,258.5M520.5,256.4L535.7,262.5L541.7,256.3M533.3,261.5L536.3,258.4M547.5,256.4L562.8,262.3L568.7,256.0M560.4,261.4L563.3,258.2M574.5,256.4L589.9,262.1L595.7,255.8M587.4,261.2L590.3,258.1M601.5,256.4L616.9,261.9L622.7,255.5M614.5,261.1L617.4,257.9M628.6,256.1L644.5,260.2L649.6,253.3M88.6,283.1L104.7,280.0L106.4,271.5M102.2,280.5L103.0,276.2M115.7,283.2L131.9,281.0L134.0,272.6M142.7,283.5L159.1,282.4L161.7,274.2M169.7,284.1L185.9,286.4L190.2,279.0M196.7,284.1L213.0,286.1L217.1,278.6M210.4,285.8L212.5,282.0M223.7,284.1L239.9,286.2L244.2,278.8M237.4,285.9L239.5,282.2M250.7,284.1L266.9,286.4L271.2,279.0M264.3,286.1L266.5,282.3M277.7,284.2L293.8,287.1L298.4,279.8M291.2,286.6L293.5,283.0M304.6,284.3L320.7,287.6L325.5,280.4M318.2,287.1L320.5,283.5M331.6,284.4L347.6,288.1L352.5,281.1M345.1,287.5L347.5,284.0M358.6,284.5L374.5,288.4L379.6,281.5M372.0,287.8L374.5,284.3M385.6,284.5L401.4,288.8L406.6,281.9M398.9,288.1L401.5,284.7M412.5,284.7L428.1,289.8L433.7,283.2M425.7,289.0L428.4,285.7M439.5,284.8L454.9,290.4L460.7,284.0M452.5,289.5L455.4,286.3M466.5,284.8L481.9,290.4L487.7,284.0M479.5,289.5L482.4,286.3M493.5,284.8L508.9,290.4L514.7,284.0M506.5,289.5L509.4,286.3M520.5,284.8L535.9,290.4L541.7,284.0M533.5,289.5L536.4,286.3M547.5,284.8L562.9,290.4L568.7,284.0M560.5,289.5L563.4,286.3M574.5,284.8L589.9,290.4L595.7,284.0M587.5,289.5L590.4,286.3M601.5,284.8L616.9,290.4L622.7,284.0M614.5,289.5L617.4,286.3M628.6,284.6L644.2,289.4L649.7,282.7M88.6,311.4L104.5,307.5L105.7,299.0M102.0,308.1L102.6,303.8M115.7,311.6L131.8,308.9L133.6,300.4M142.7,312.2L159.1,312.2L162.3,304.3M156.5,312.2L158.1,308.2M169.7,312.5L186.0,313.9L189.9,306.2M196.7,312.5L213.0,313.9L216.9,306.3M223.7,312.6L240.0,314.4L244.1,306.9M237.4,314.1L239.4,310.3M250.7,312.6L266.9,314.9L271.2,307.5M277.7,312.7L293.9,315.3L298.3,307.9M291.3,314.9L293.5,311.2M304.7,312.8L320.8,315.6L325.4,308.3M318.2,315.2L320.5,311.5M331.6,312.8L347.8,315.8L352.4,308.6M345.2,315.3L347.5,311.7M358.6,312.8L374.7,316.1L379.4,308.9M372.2,315.5L374.5,311.9M385.6,312.9L401.7,316.3L406.5,309.2M399.1,315.7L401.5,312.2M412.6,313.0L428.4,317.3L433.6,310.4M425.9,316.6L428.5,313.2M439.5,313.3L454.9,318.9L460.7,312.5M452.5,318.0L455.4,314.8M466.5,313.3L481.9,318.9L487.7,312.5M479.5,318.0L482.4,314.8M493.5,313.3L508.9,318.9L514.7,312.5M506.5,318.0L509.4,314.8M520.5,313.3L535.9,318.9L541.7,312.5M533.5,318.0L536.4,314.8M547.5,313.3L562.9,318.9L568.7,312.5M560.5,318.0L563.4,314.8M574.5,313.3L589.9,318.9L595.7,312.5M587.5,318.0L590.4,314.8M601.5,313.3L616.9,318.9L622.7,312.5M614.5,318.0L617.4,314.8M628.5,313.3L644.0,318.7L649.7,312.3M88.7,340.6L105.1,339.5L107.7,331.3M115.7,340.8L132.1,340.8L135.3,332.8M129.5,340.8L131.1,336.8M142.7,340.8L159.1,340.8L162.3,332.8M156.5,340.8L158.1,336.8M169.7,341.0L186.0,342.2L189.8,334.5M196.6,341.4L212.7,344.5L217.4,337.3M223.7,341.2L239.9,343.5L244.2,336.1M250.7,341.3L266.9,343.8L271.3,336.4M264.3,343.4L266.5,339.7M277.7,341.3L293.8,344.0L298.3,336.6M291.3,343.6L293.5,339.9M304.7,341.3L320.8,344.2L325.4,336.9M318.2,343.7L320.5,340.1M331.6,341.4L347.8,344.4L352.4,337.2M345.2,343.9L347.5,340.3M358.6,341.4L374.7,344.6L379.4,337.5M372.2,344.1L374.5,340.5M385.6,341.5L401.7,344.9L406.5,337.8M399.1,344.3L401.5,340.8M412.6,341.6L428.4,345.9L433.6,339.0M425.9,345.2L428.5,341.8M439.5,341.9L454.9,347.5L460.7,341.1M452.5,346.6L455.4,343.4M466.5,341.9L481.9,347.5L487.7,341.2M479.5,346.6L482.3,343.5M493.5,341.9L508.9,347.6L514.7,341.2M506.4,346.7L509.3,343.5M520.5,341.9L535.9,347.6L541.7,341.3M533.4,346.7L536.3,343.6M547.5,341.9L562.8,347.7L568.7,341.3M560.4,346.8L563.3,343.6M574.5,341.9L589.8,347.7L595.7,341.4M587.4,346.8L590.3,343.6M601.5,341.9L616.8,347.8L622.7,341.5M614.4,346.8L617.3,343.7M628.5,341.9L643.8,347.8L649.7,341.5M641.4,346.9L644.3,343.7M88.7,369.3L105.1,368.1L107.7,360.0M115.7,369.5L132.1,369.5L135.3,361.5M142.7,369.5L159.1,369.5L162.3,361.5M169.7,369.7L186.1,370.9L189.8,363.1M196.7,369.7L213.1,370.9L216.8,363.1M210.5,370.7L212.3,366.8M223.7,369.8L240.0,371.2L243.9,363.5M250.7,369.8L267.0,371.5L271.0,363.9M277.7,369.9L294.0,371.9L298.1,364.4M291.4,371.6L293.5,367.8M304.7,369.9L320.9,372.2L325.2,364.8M318.3,371.9L320.5,368.1M331.7,370.0L347.8,372.7L352.3,365.3M345.3,372.2L347.5,368.6M358.6,370.1L374.8,373.1L379.4,365.9M372.2,372.6L374.5,369.0M385.6,370.2L401.7,373.6L406.5,366.5M399.1,373.0L401.5,369.5M412.6,370.3L428.4,374.6L433.6,367.7M425.9,373.9L428.5,370.5M439.6,370.4L455.2,375.4L460.7,368.8M452.7,374.6L455.4,371.3M466.5,370.6L481.9,376.2L487.7,369.8M479.5,375.3L482.4,372.1M493.5,370.6L508.9,376.3L514.7,369.9M506.4,375.4L509.3,372.2M520.5,370.6L535.8,376.4L541.7,370.1M533.4,375.5L536.3,372.3M547.5,370.6L562.8,376.5L568.7,370.2M560.4,375.6L563.3,372.4M574.5,370.6L589.8,376.6L595.7,370.4M587.3,375.7L590.3,372.5M601.5,370.7L616.7,376.7L622.7,370.5M614.3,375.8L617.3,372.7M628.5,370.7L643.7,376.8L649.6,370.6M641.3,375.9L644.2,372.8M88.7,398.6L105.0,400.3L109.0,392.7M115.7,398.4L132.1,399.3L135.7,391.5M142.7,398.4L159.1,399.3L162.7,391.5M169.7,398.5L186.0,400.0L189.9,392.3M183.4,399.8L185.4,395.9M196.7,398.5L213.0,400.0L216.9,392.3M210.4,399.8L212.4,395.9M223.7,398.6L240.0,400.0L243.9,392.3M237.4,399.8L239.4,395.9M250.7,398.7L266.9,401.0L271.2,393.6M264.3,400.6L266.5,396.9M277.7,398.7L293.9,401.0L298.2,393.6M304.7,398.7L320.9,401.0L325.2,393.6M318.3,400.6L320.5,396.9M331.7,398.8L347.9,401.2L352.3,393.8M345.3,400.8L347.5,397.1M358.7,398.8L374.8,401.5L379.3,394.1M372.3,401.0L374.5,397.4M385.7,398.8L401.8,401.7L406.4,394.4M399.2,401.2L401.5,397.6M412.6,398.9L428.7,402.4L433.5,395.3M439.4,399.6L454.3,406.5L460.6,400.7M451.9,405.4L455.1,402.5M466.5,399.5L481.7,405.6L487.6,399.4M479.3,404.6L482.2,401.5M493.5,399.5L508.7,405.5L514.7,399.3M506.3,404.5L509.3,401.4M520.5,399.4L535.8,405.4L541.7,399.1M533.3,404.5L536.3,401.3M547.5,399.4L562.8,405.3L568.7,399.0M560.4,404.4L563.3,401.2M574.5,399.4L589.8,405.2L595.7,398.9M587.4,404.3L590.3,401.1M601.5,399.4L616.9,405.1L622.7,398.7M614.4,404.2L617.3,401.0M628.5,399.4L643.9,405.0L649.7,398.6M641.5,404.1L644.4,400.9M88.5,428.2L104.0,433.8L109.7,427.4M115.7,427.4L132.0,428.9L135.9,421.3M142.6,427.8L158.7,431.2L163.5,424.0M169.7,427.4L186.0,428.9L189.9,421.2M183.4,428.6L185.4,424.8M196.7,427.4L213.0,428.9L216.9,421.2M210.4,428.6L212.4,424.8M223.7,427.4L240.0,428.9L243.9,421.2M237.4,428.7L239.4,424.8M250.7,427.6L266.9,430.0L271.2,422.5M264.3,429.6L266.5,425.9M277.5,428.2L292.9,433.8L298.7,427.4M304.7,427.7L320.9,430.2L325.3,422.9M318.3,429.8L320.5,426.1M331.7,427.7L347.8,430.6L352.4,423.3M345.2,430.1L347.5,426.5M358.7,427.7L374.8,430.6L379.4,423.3M372.2,430.1L374.5,426.5M385.7,427.7L401.8,430.6L406.4,423.3M399.2,430.1L401.5,426.5M412.6,427.8L428.7,431.3L433.5,424.2M439.5,428.4L454.7,434.5L460.6,428.3M452.3,433.5L455.2,430.5M466.4,428.5L481.3,435.4L487.6,429.6M478.9,434.3L482.1,431.4M493.5,428.4L508.7,434.5L514.6,428.3M520.5,428.4L535.7,434.5L541.6,428.3M533.3,433.5L536.2,430.4M547.5,428.4L562.7,434.5L568.6,428.3M560.3,433.5L563.2,430.4M574.5,428.4L589.7,434.5L595.6,428.3M587.3,433.5L590.2,430.4M601.5,428.4L616.7,434.5L622.6,428.3M614.3,433.5L617.2,430.4M628.5,428.4L643.7,434.5L649.6,428.3M641.3,433.5L644.2,430.4M88.6,456.8L104.7,460.2L109.5,453.1M115.6,456.8L131.7,459.9L136.4,452.6M142.7,456.5L159.0,458.5L163.1,451.0M169.7,456.4L186.0,457.9L189.9,450.2M196.7,456.4L213.0,457.9L216.9,450.2M223.7,456.6L239.9,458.9L244.2,451.4M237.3,458.5L239.5,454.8M250.7,456.7L266.8,459.6L271.4,452.3M277.6,457.0L293.4,461.2L298.6,454.4M304.6,457.0L320.4,461.5L325.6,454.6M331.7,456.2L348.1,456.2L351.4,448.3M358.6,456.8L374.7,460.2L379.5,453.1M385.6,456.9L401.5,460.9L406.6,453.9M399.0,460.3L401.5,456.8M412.6,456.9L428.5,460.9L433.6,454.0M439.5,457.3L454.7,463.5L460.6,457.3M452.3,462.5L455.2,459.4M466.5,457.3L481.7,463.5L487.6,457.3M479.3,462.5L482.2,459.4M493.5,457.3L508.7,463.5L514.6,457.3M506.3,462.5L509.2,459.4M520.5,457.3L535.7,463.5L541.6,457.3M547.5,457.3L562.7,463.5L568.6,457.3M574.5,457.3L589.7,463.5L595.6,457.3M587.3,462.5L590.2,459.4M601.5,457.3L616.7,463.5L622.6,457.3M614.3,462.5L617.2,459.4M628.5,457.3L643.7,463.5L649.6,457.3M88.5,486.3L103.9,492.0L109.7,485.6M115.3,486.9L129.4,495.2L136.2,490.0M142.6,485.9L158.7,489.3L163.5,482.2M169.6,486.1L185.3,490.6L190.6,483.8M196.6,486.0L212.5,490.0L217.6,483.0M223.6,485.9L239.7,489.3L244.5,482.2M250.6,485.9L266.7,489.3L271.5,482.1M277.7,485.5L294.0,486.7L297.9,479.0M304.5,486.4L319.7,492.5L325.6,486.3M331.6,486.1L347.4,490.3L352.6,483.5M358.5,486.3L374.0,491.6L379.7,485.1M385.5,486.3L401.0,491.6L406.7,485.1M412.6,486.1L428.4,490.3L433.6,483.4M439.6,485.9L455.7,489.3L460.5,482.2M453.1,488.8L455.5,485.2M466.6,485.9L482.7,489.3L487.5,482.2M480.1,488.8L482.5,485.2M493.6,486.1L509.4,490.3L514.6,483.5M506.9,489.7L509.5,486.2M520.5,486.2L536.1,491.3L541.7,484.7M547.5,486.4L562.7,492.6L568.6,486.4M574.5,486.3L589.9,491.9L595.7,485.6M601.5,486.3L616.9,491.9L622.7,485.6M628.5,486.3L643.9,491.9L649.7,485.6M641.5,491.1L644.4,487.9M88.5,515.4L104.1,520.5L109.7,513.9M115.5,515.6L130.8,521.5L136.7,515.2M142.4,515.8L157.3,522.7L163.6,516.9M169.4,515.8L184.1,523.0L190.5,517.3M196.4,515.7L211.5,522.1L217.6,516.0M223.5,515.5L238.9,521.1L244.7,514.7M250.5,515.4L266.1,520.5L271.7,513.9M277.6,515.3L293.4,519.8L298.6,513.0M304.7,515.0L320.8,517.6L325.3,510.3M331.4,515.8L346.3,522.7L352.6,516.9M358.4,515.7L373.4,522.4L379.6,516.4M385.4,515.7L400.5,522.1L406.6,516.0M412.5,515.5L427.9,521.1L433.7,514.7M439.6,515.2L455.5,519.2L460.6,512.3M466.5,515.5L481.9,521.1L487.7,514.8M493.5,515.5L508.9,521.1L514.7,514.8M520.5,515.5L535.9,521.1L541.7,514.8M547.5,515.5L562.9,521.1L568.7,514.8M574.5,515.5L589.9,521.1L595.7,514.8M601.5,515.5L616.9,521.1L622.7,514.8M628.5,515.5L643.9,521.1L649.7,514.8" fill="none" stroke="#000" stroke-width="1.3" stroke-linejoin="miter"/>
<g fill="#e6e6fa" stroke="#000" stroke-width="1.2">
<circle cx="85.5" cy="114.4" r="3.1"/>
<circle cx="112.5" cy="114.4" r="3.1"/>
<circle cx="139.5" cy="114.4" r="3.1"/>
<circle cx="166.5" cy="114.4" r="3.1"/>
<circle cx="193.5" cy="114.4" r="3.1"/>
<circle cx="220.5" cy="114.4" r="3.1"/>
<circle cx="247.5" cy="114.4" r="3.1"/>
<circle cx="274.5" cy="114.4" r="3.1"/>
<circle cx="301.5" cy="114.4" r="3.1"/>
<circle cx="328.5" cy="114.4" r="3.1"/>
<circle cx="355.5" cy="114.4" r="3.1"/>
<circle cx="382.5" cy="114.4" r="3.1"/>
<circle cx="409.5" cy="114.4" r="3.1"/>
<circle cx="436.5" cy="114.4" r="3.1"/>
<circle cx="463.5" cy="114.4" r="3.1"/>
<circle cx="490.5" cy="114.4" r="3.1"/>
<circle cx="517.5" cy="114.4" r="3.1"/>
<circle cx="544.5" cy="114.4" r="3.1"/>
<circle cx="571.5" cy="114.4" r="3.1"/>
<circle cx="598.5" cy="114.4" r="3.1"/>
<circle cx="625.5" cy="114.4" r="3.1"/>
<circle cx="85.5" cy="142.4" r="3.1"/>
<circle cx="112.5" cy="142.4" r="3.1"/>
<circle cx="139.5" cy="142.4" r="3.1"/>
<circle cx="166.5" cy="142.4" r="3.1"/>
<circle cx="193.5" cy="142.4" r="3.1"/>
<circle cx="220.5" cy="142.4" r="3.1"/>
<circle cx="247.5" cy="142.4" r="3.1"/>
<circle cx="274.5" cy="142.4" r="3.1"/>
<circle cx="301.5" cy="142.4" r="3.1"/>
<circle cx="328.5" cy="142.4" r="3.1"/>
<circle cx="355.5" cy="142.4" r="3.1"/>
<circle cx="382.5" cy="142.4" r="3.1"/>
<circle cx="409.5" cy="142.4" r="3.1"/>
<circle cx="436.5" cy="142.4" r="3.1"/>
<circle cx="463.5" cy="142.4" r="3.1"/>
<circle cx="490.5" cy="142.4" r="3.1"/>
<circle cx="517.5" cy="142.4" r="3.1"/>
<circle cx="544.5" cy="142.4" r="3.1"/>
<circle cx="571.5" cy="142.4" r="3.1"/>
<circle cx="598.5" cy="142.4" r="3.1"/>
<circle cx="625.5" cy="142.4" r="3.1"/>
<circle cx="85.5" cy="170.5" r="3.1"/>
<circle cx="112.5" cy="170.5" r="3.1"/>
<circle cx="139.5" cy="170.5" r="3.1"/>
<circle cx="166.5" cy="170.5" r="3.1"/>
<circle cx="193.5" cy="170.5" r="3.1"/>
<circle cx="220.5" cy="170.5" r="3.1"/>
<circle cx="247.5" cy="170.5" r="3.1"/>
<circle cx="274.5" cy="170.5" r="3.1"/>
<circle cx="301.5" cy="170.5" r="3.1"/>
<circle cx="328.5" cy="170.5" r="3.1"/>
<circle cx="355.5" cy="170.5" r="3.1"/>
<circle cx="382.5" cy="170.5" r="3.1"/>
<circle cx="409.5" cy="170.5" r="3.1"/>
<circle cx="436.5" cy="170.5" r="3.1"/>
<circle cx="463.5" cy="170.5" r="3.1"/>
<circle cx="490.5" cy="170.5" r="3.1"/>
<circle cx="517.5" cy="170.5" r="3.1"/>
<circle cx="544.5" cy="170.5" r="3.1"/>
<circle cx="571.5" cy="170.5" r="3.1"/>
<circle cx="598.5" cy="170.5" r="3.1"/>
<circle cx="625.5" cy="170.5" r="3.1"/>
<circle cx="85.5" cy="198.7" r="3.1"/>
<circle cx="112.5" cy="198.7" r="3.1"/>
<circle cx="139.5" cy="198.7" r="3.1"/>
<circle cx="166.5" cy="198.7" r="3.1"/>
<circle cx="193.5" cy="198.7" r="3.1"/>
<circle cx="220.5" cy="198.7" r="3.1"/>
<circle cx="247.5" cy="198.7" r="3.1"/>
<circle cx="274.5" cy="198.7" r="3.1"/>
<circle cx="301.5" cy="198.7" r="3.1"/>
<circle cx="328.5" cy="198.7" r="3.1"/>
<circle cx="355.5" cy="198.7" r="3.1"/>
<circle cx="382.5" cy="198.7" r="3.1"/>
<circle cx="409.5" cy="198.7" r="3.1"/>
<circle cx="436.5" cy="198.7" r="3.1"/>
<circle cx="463.5" cy="198.7" r="3.1"/>
<circle cx="490.5" cy="198.7" r="3.1"/>
<circle cx="517.5" cy="198.7" r="3.1"/>
<circle cx="544.5" cy="198.7" r="3.1"/>
<circle cx="571.5" cy="198.7" r="3.1"/>
<circle cx="598.5" cy="198.7" r="3.1"/>
<circle cx="625.5" cy="198.7" r="3.1"/>
<circle cx="85.5" cy="226.9" r="3.1"/>
<circle cx="112.5" cy="226.9" r="3.1"/>
<circle cx="139.5" cy="226.9" r="3.1"/>
<circle cx="166.5" cy="226.9" r="3.1"/>
<circle cx="193.5" cy="226.9" r="3.1"/>
<circle cx="220.5" cy="226.9" r="3.1"/>
<circle cx="247.5" cy="226.9" r="3.1"/>
<circle cx="274.5" cy="226.9" r="3.1"/>
<circle cx="301.5" cy="226.9" r="3.1"/>
<circle cx="328.5" cy="226.9" r="3.1"/>
<circle cx="355.5" cy="226.9" r="3.1"/>
<circle cx="382.5" cy="226.9" r="3.1"/>
<circle cx="409.5" cy="226.9" r="3.1"/>
<circle cx="436.5" cy="226.9" r="3.1"/>
<circle cx="463.5" cy="226.9" r="3.1"/>
<circle cx="490.5" cy="226.9" r="3.1"/>
<circle cx="517.5" cy="226.9" r="3.1"/>
<circle cx="544.5" cy="226.9" r="3.1"/>
<circle cx="571.5" cy="226.9" r="3.1"/>
<circle cx="598.5" cy="226.9" r="3.1"/>
<circle cx="625.5" cy="226.9" r="3.1"/>
<circle cx="85.5" cy="255.3" r="3.1"/>
<circle cx="112.5" cy="255.3" r="3.1"/>
<circle cx="139.5" cy="255.3" r="3.1"/>
<circle cx="166.5" cy="255.3" r="3.1"/>
<circle cx="193.5" cy="255.3" r="3.1"/>
<circle cx="220.5" cy="255.3" r="3.1"/>
<circle cx="247.5" cy="255.3" r="3.1"/>
<circle cx="274.5" cy="255.3" r="3.1"/>
<circle cx="301.5" cy="255.3" r="3.1"/>
<circle cx="328.5" cy="255.3" r="3.1"/>
<circle cx="355.5" cy="255.3" r="3.1"/>
<circle cx="382.5" cy="255.3" r="3.1"/>
<circle cx="409.5" cy="255.3" r="3.1"/>
<circle cx="436.5" cy="255.3" r="3.1"/>
<circle cx="463.5" cy="255.3" r="3.1"/>
<circle cx="490.5" cy="255.3" r="3.1"/>
<circle cx="517.5" cy="255.3" r="3.1"/>
<circle cx="544.5" cy="255.3" r="3.1"/>
<circle cx="571.5" cy="255.3" r="3.1"/>
<circle cx="598.5" cy="255.3" r="3.1"/>
<circle cx="625.5" cy="255.3" r="3.1"/>
<circle cx="85.5" cy="283.7" r="3.1"/>
<circle cx="112.5" cy="283.7" r="3.1"/>
<circle cx="139.5" cy="283.7" r="3.1"/>
<circle cx="166.5" cy="283.7" r="3.1"/>
<circle cx="193.5" cy="283.7" r="3.1"/>
<circle cx="220.5" cy="283.7" r="3.1"/>
<circle cx="247.5" cy="283.7" r="3.1"/>
<circle cx="274.5" cy="283.7" r="3.1"/>
<circle cx="301.5" cy="283.7" r="3.1"/>
<circle cx="328.5" cy="283.7" r="3.1"/>
<circle cx="355.5" cy="283.7" r="3.1"/>
<circle cx="382.5" cy="283.7" r="3.1"/>
<circle cx="409.5" cy="283.7" r="3.1"/>
<circle cx="436.5" cy="283.7" r="3.1"/>
<circle cx="463.5" cy="283.7" r="3.1"/>
<circle cx="490.5" cy="283.7" r="3.1"/>
<circle cx="517.5" cy="283.7" r="3.1"/>
<circle cx="544.5" cy="283.7" r="3.1"/>
<circle cx="571.5" cy="283.7" r="3.1"/>
<circle cx="598.5" cy="283.7" r="3.1"/>
<circle cx="625.5" cy="283.7" r="3.1"/>
<circle cx="85.5" cy="312.2" r="3.1"/>
<circle cx="112.5" cy="312.2" r="3.1"/>
<circle cx="139.5" cy="312.2" r="3.1"/>
<circle cx="166.5" cy="312.2" r="3.1"/>
<circle cx="193.5" cy="312.2" r="3.1"/>
<circle cx="220.5" cy="312.2" r="3.1"/>
<circle cx="247.5" cy="312.2" r="3.1"/>
<circle cx="274.5" cy="312.2" r="3.1"/>
<circle cx="301.5" cy="312.2" r="3.1"/>
<circle cx="328.5" cy="312.2" r="3.1"/>
<circle cx="355.5" cy="312.2" r="3.1"/>
<circle cx="382.5" cy="312.2" r="3.1"/>
<circle cx="409.5" cy="312.2" r="3.1"/>
<circle cx="436.5" cy="312.2" r="3.1"/>
<circle cx="463.5" cy="312.2" r="3.1"/>
<circle cx="490.5" cy="312.2" r="3.1"/>
<circle cx="517.5" cy="312.2" r="3.1"/>
<circle cx="544.5" cy="312.2" r="3.1"/>
<circle cx="571.5" cy="312.2" r="3.1"/>
<circle cx="598.5" cy="312.2" r="3.1"/>
<circle cx="625.5" cy="312.2" r="3.1"/>
<circle cx="85.5" cy="340.8" r="3.1"/>
<circle cx="112.5" cy="340.8" r="3.1"/>
<circle cx="139.5" cy="340.8" r="3.1"/>
<circle cx="166.5" cy="340.8" r="3.1"/>
<circle cx="193.5" cy="340.8" r="3.1"/>
<circle cx="220.5" cy="340.8" r="3.1"/>
<circle cx="247.5" cy="340.8" r="3.1"/>
<circle cx="274.5" cy="340.8" r="3.1"/>
<circle cx="301.5" cy="340.8" r="3.1"/>
<circle cx="328.5" cy="340.8" r="3.1"/>
<circle cx="355.5" cy="340.8" r="3.1"/>
<circle cx="382.5" cy="340.8" r="3.1"/>
<circle cx="409.5" cy="340.8" r="3.1"/>
<circle cx="436.5" cy="340.8" r="3.1"/>
<circle cx="463.5" cy="340.8" r="3.1"/>
<circle cx="490.5" cy="340.8" r="3.1"/>
<circle cx="517.5" cy="340.8" r="3.1"/>
<circle cx="544.5" cy="340.8" r="3.1"/>
<circle cx="571.5" cy="340.8" r="3.1"/>
<circle cx="598.5" cy="340.8" r="3.1"/>
<circle cx="625.5" cy="340.8" r="3.1"/>
<circle cx="85.5" cy="369.5" r="3.1"/>
<circle cx="112.5" cy="369.5" r="3.1"/>
<circle cx="139.5" cy="369.5" r="3.1"/>
<circle cx="166.5" cy="369.5" r="3.1"/>
<circle cx="193.5" cy="369.5" r="3.1"/>
<circle cx="220.5" cy="369.5" r="3.1"/>
<circle cx="247.5" cy="369.5" r="3.1"/>
<circle cx="274.5" cy="369.5" r="3.1"/>
<circle cx="301.5" cy="369.5" r="3.1"/>
<circle cx="328.5" cy="369.5" r="3.1"/>
<circle cx="355.5" cy="369.5" r="3.1"/>
<circle cx="382.5" cy="369.5" r="3.1"/>
<circle cx="409.5" cy="369.5" r="3.1"/>
<circle cx="436.5" cy="369.5" r="3.1"/>
<circle cx="463.5" cy="369.5" r="3.1"/>
<circle cx="490.5" cy="369.5" r="3.1"/>
<circle cx="517.5" cy="369.5" r="3.1"/>
<circle cx="544.5" cy="369.5" r="3.1"/>
<circle cx="571.5" cy="369.5" r="3.1"/>
<circle cx="598.5" cy="369.5" r="3.1"/>
<circle cx="625.5" cy="369.5" r="3.1"/>
<circle cx="85.5" cy="398.3" r="3.1"/>
<circle cx="112.5" cy="398.3" r="3.1"/>
<circle cx="139.5" cy="398.3" r="3.1"/>
<circle cx="166.5" cy="398.3" r="3.1"/>
<circle cx="193.5" cy="398.3" r="3.1"/>
<circle cx="220.5" cy="398.3" r="3.1"/>
<circle cx="247.5" cy="398.3" r="3.1"/>
<circle cx="274.5" cy="398.3" r="3.1"/>
<circle cx="301.5" cy="398.3" r="3.1"/>
<circle cx="328.5" cy="398.3" r="3.1"/>
<circle cx="355.5" cy="398.3" r="3.1"/>
<circle cx="382.5" cy="398.3" r="3.1"/>
<circle cx="409.5" cy="398.3" r="3.1"/>
<circle cx="436.5" cy="398.3" r="3.1"/>
<circle cx="463.5" cy="398.3" r="3.1"/>
<circle cx="490.5" cy="398.3" r="3.1"/>
<circle cx="517.5" cy="398.3" r="3.1"/>
<circle cx="544.5" cy="398.3" r="3.1"/>
<circle cx="571.5" cy="398.3" r="3.1"/>
<circle cx="598.5" cy="398.3" r="3.1"/>
<circle cx="625.5" cy="398.3" r="3.1"/>
<circle cx="85.5" cy="427.2" r="3.1"/>
<circle cx="112.5" cy="427.2" r="3.1"/>
<circle cx="139.5" cy="427.2" r="3.1"/>
<circle cx="166.5" cy="427.2" r="3.1"/>
<circle cx="193.5" cy="427.2" r="3.1"/>
<circle cx="220.5" cy="427.2" r="3.1"/>
<circle cx="247.5" cy="427.2" r="3.1"/>
<circle cx="274.5" cy="427.2" r="3.1"/>
<circle cx="301.5" cy="427.2" r="3.1"/>
<circle cx="328.5" cy="427.2" r="3.1"/>
<circle cx="355.5" cy="427.2" r="3.1"/>
<circle cx="382.5" cy="427.2" r="3.1"/>
<circle cx="409.5" cy="427.2" r="3.1"/>
<circle cx="436.5" cy="427.2" r="3.1"/>
<circle cx="463.5" cy="427.2" r="3.1"/>
<circle cx="490.5" cy="427.2" r="3.1"/>
<circle cx="517.5" cy="427.2" r="3.1"/>
<circle cx="544.5" cy="427.2" r="3.1"/>
<circle cx="571.5" cy="427.2" r="3.1"/>
<circle cx="598.5" cy="427.2" r="3.1"/>
<circle cx="625.5" cy="427.2" r="3.1"/>
<circle cx="85.5" cy="456.1" r="3.1"/>
<circle cx="112.5" cy="456.1" r="3.1"/>
<circle cx="139.5" cy="456.1" r="3.1"/>
<circle cx="166.5" cy="456.1" r="3.1"/>
<circle cx="193.5" cy="456.1" r="3.1"/>
<circle cx="220.5" cy="456.1" r="3.1"/>
<circle cx="247.5" cy="456.1" r="3.1"/>
<circle cx="274.5" cy="456.1" r="3.1"/>
<circle cx="301.5" cy="456.1" r="3.1"/>
<circle cx="328.5" cy="456.1" r="3.1"/>
<circle cx="355.5" cy="456.1" r="3.1"/>
<circle cx="382.5" cy="456.1" r="3.1"/>
<circle cx="409.5" cy="456.1" r="3.1"/>
<circle cx="436.5" cy="456.1" r="3.1"/>
<circle cx="463.5" cy="456.1" r="3.1"/>
<circle cx="490.5" cy="456.1" r="3.1"/>
<circle cx="517.5" cy="456.1" r="3.1"/>
<circle cx="544.5" cy="456.1" r="3.1"/>
<circle cx="571.5" cy="456.1" r="3.1"/>
<circle cx="598.5" cy="456.1" r="3.1"/>
<circle cx="625.5" cy="456.1" r="3.1"/>
<circle cx="85.5" cy="485.2" r="3.1"/>
<circle cx="112.5" cy="485.2" r="3.1"/>
<circle cx="139.5" cy="485.2" r="3.1"/>
<circle cx="166.5" cy="485.2" r="3.1"/>
<circle cx="193.5" cy="485.2" r="3.1"/>
<circle cx="220.5" cy="485.2" r="3.1"/>
<circle cx="247.5" cy="485.2" r="3.1"/>
<circle cx="274.5" cy="485.2" r="3.1"/>
<circle cx="301.5" cy="485.2" r="3.1"/>
<circle cx="328.5" cy="485.2" r="3.1"/>
<circle cx="355.5" cy="485.2" r="3.1"/>
<circle cx="382.5" cy="485.2" r="3.1"/>
<circle cx="409.5" cy="485.2" r="3.1"/>
<circle cx="436.5" cy="485.2" r="3.1"/>
<circle cx="463.5" cy="485.2" r="3.1"/>
<circle cx="490.5" cy="485.2" r="3.1"/>
<circle cx="517.5" cy="485.2" r="3.1"/>
<circle cx="544.5" cy="485.2" r="3.1"/>
<circle cx="571.5" cy="485.2" r="3.1"/>
<circle cx="598.5" cy="485.2" r="3.1"/>
<circle cx="625.5" cy="485.2" r="3.1"/>
<circle cx="85.5" cy="514.4" r="3.1"/>
<circle cx="112.5" cy="514.4" r="3.1"/>
<circle cx="139.5" cy="514.4" r="3.1"/>
<circle cx="166.5" cy="514.4" r="3.1"/>
<circle cx="193.5" cy="514.4" r="3.1"/>
<circle cx="220.5" cy="514.4" r="3.1"/>
<circle cx="247.5" cy="514.4" r="3.1"/>
<circle cx="274.5" cy="514.4" r="3.1"/>
<circle cx="301.5" cy="514.4" r="3.1"/>
<circle cx="328.5" cy="514.4" r="3.1"/>
<circle cx="355.5" cy="514.4" r="3.1"/>
<circle cx="382.5" cy="514.4" r="3.1"/>
<circle cx="409.5" cy="514.4" r="3.1"/>
<circle cx="436.5" cy="514.4" r="3.1"/>
<circle cx="463.5" cy="514.4" r="3.1"/>
<circle cx="490.5" cy="514.4" r="3.1"/>
<circle cx="517.5" cy="514.4" r="3.1"/>
<circle cx="544.5" cy="514.4" r="3.1"/>
<circle cx="571.5" cy="514.4" r="3.1"/>
<circle cx="598.5" cy="514.4" r="3.1"/>
<circle cx="625.5" cy="514.4" r="3.1"/>
</g>
<g clip-path="url(#fr)" fill="none" stroke="#000" stroke-width="1.1" stroke-linejoin="round">
<path d="M72.8,117.0L76.7,114.9L81.2,113.2L80.1,117.7L78.4,122.2L80.7,126.0L81.2,128.4L79.0,127.8L76.7,126.0L72.8,125.5"/>
<path d="M80.1,138.5C80.3,137.1 82.2,134.7 83.5,132.9C84.8,131.1 86.5,129.2 88.0,127.8C89.5,126.4 91.4,125.2 92.5,124.8C93.6,124.4 94.4,124.7 94.7,125.6C95.0,126.5 94.8,128.4 94.2,130.0C93.7,131.6 92.6,133.5 91.4,135.0C90.2,136.5 88.4,137.9 86.9,139.0C85.4,140.1 83.5,141.4 82.4,141.3C81.3,141.2 79.9,139.9 80.1,138.5Z"/>
<path d="M96.5,129.5q2,-2 4,-0.5q2,-1.5 4,-0.5" stroke-width="2"/>
<path d="M89,112l3,-1.5l-1,2.5z M123,142.5l2,0l-1,1.5z M137.5,151.5l4,1l1,3l-2.5,1l0.5,3 M111.6,156.5l0.5,0.5 M131.3,156.5l0.5,0.5 M149.5,179.5l1,1.5 M76,233l5,-3.5l0.5,6z M74,250l1.5,2"/>
<ellipse cx="121.5" cy="183.5" rx="2" ry="1.6"/><ellipse cx="150.5" cy="210.5" rx="2.6" ry="2"/><circle cx="166" cy="235" r="0.9"/>
<path d="M92,252l3,-1.5l1,1.5l-3,1z M141.5,250l1.5,-1.5 M144,247.5l1.5,-1 M158,246l2,0 M161.5,262l2,1.5l1,-0.5 M171,263l0.5,1.5" stroke-width="1.6"/>
<path d="M402,239.5l3,-3.5l2,0.5l-1,3.5z M406.5,231.5l2,-2 M411,238l2.5,-1l1,-2.5 M407,240.5l3.5,0.5" stroke-width="1.4"/>
<circle cx="373.7" cy="243.7" r="1.3"/><circle cx="353.3" cy="293" r="0.9"/>
<path d="M393.5,292l-1.5,3l1,2l-2,2.5l-1.5,3l-2,3" stroke-width="2" stroke-dasharray="2.5,2"/>
<path d="M337.8,372.8l-1.2,4.8l2.4,1.6M344,380.8L345.4,377.3L348.9,376.2L352.4,376.6L353.5,378.4L351.7,380.1L350,381.9L349.6,384.3L347.5,385L345,383.3Z" fill="#dfe8df"/><circle cx="347.2" cy="378.7" r="1.1" fill="#000"/>
<path d="M359.5,385.4L360.9,395.2L356.6,391.7Z" fill="#cdd8cd" stroke-width="0.9"/>
</g>
<g font-family="'Liberation Sans',sans-serif">
<circle cx="351.8" cy="297.8" r="2.9" fill="#f00" stroke="#a00" stroke-width="0.5"/>
<text x="345.8" y="302.3" text-anchor="end" font-size="13.8" fill="#111">Tofua</text>
<circle cx="366.8" cy="326.5" r="2.9" fill="#f00" stroke="#a00" stroke-width="0.5"/>
<text x="372.3" y="331.0" text-anchor="start" font-size="13.8" fill="#111">Nomuka</text>
<circle cx="341.7" cy="378.0" r="2.9" fill="#f00" stroke="#a00" stroke-width="0.5"/>
<text x="337.1" y="382.4" text-anchor="end" font-size="13.8" fill="#111">Tongatapu</text>
<circle cx="409.5" cy="233.5" r="2.9" fill="#f00" stroke="#a00" stroke-width="0.5"/>
<text x="414.5" y="238.5" text-anchor="start" font-size="13.8" fill="#111">Vava'u</text>
</g>
<g clip-path="url(#fr)"><circle cx="633" cy="258" r="2.6" fill="#f00" stroke="#400" stroke-width="0.7"/><circle cx="633" cy="258" r="4.5" fill="none" stroke="#700" stroke-width="0.8"/><text x="634.3" y="273.5" font-family="Liberation Sans,sans-serif" font-size="13.8" fill="#111">Niue</text></g>
<rect x="506.8" y="511" width="128" height="14.5" fill="#26262c" fill-opacity="0.88"/>
<text x="569.6" y="522.4" text-anchor="middle" font-family="'Liberation Sans',sans-serif" font-size="12.1" fill="#fff" stroke="#fff" stroke-width="0.3">Copyright metvuw.com</text>
<rect x="72" y="100" width="567" height="429" fill="none" stroke="#000" stroke-width="2"/>
<path d="M85.5,99v-5 M85.5,530v5M139.5,99v-3 M139.5,530v3M193.5,99v-5 M193.5,530v5M247.5,99v-3 M247.5,530v3M301.5,99v-5 M301.5,530v5M355.5,99v-3 M355.5,530v3M409.5,99v-5 M409.5,530v5M463.5,99v-3 M463.5,530v3M517.5,99v-5 M517.5,530v5M571.5,99v-3 M571.5,530v3M625.5,99v-5 M625.5,530v5M71,142.4h-5 M640,142.4h5M71,198.7h-5 M640,198.7h5M71,255.3h-5 M640,255.3h5M71,312.2h-5 M640,312.2h5M71,369.5h-5 M640,369.5h5M71,427.2h-5 M640,427.2h5M71,485.2h-5 M640,485.2h5" stroke="#222" stroke-width="1" fill="none"/>
<g font-family="'Liberation Sans',sans-serif" font-size="15.8" fill="#111">
<text x="85.5" y="89.8" text-anchor="middle">180<tspan font-size="10.5" dx="0.9" dy="-4.7">°</tspan><tspan dx="0.6" dy="4.7"></tspan></text>
<text x="85.5" y="551.6" text-anchor="middle">180<tspan font-size="10.5" dx="0.9" dy="-4.7">°</tspan><tspan dx="0.6" dy="4.7"></tspan></text>
<text x="193.5" y="89.8" text-anchor="middle">178<tspan font-size="10.5" dx="0.9" dy="-4.7">°</tspan><tspan dx="0.6" dy="4.7">W</tspan></text>
<text x="193.5" y="551.6" text-anchor="middle">178<tspan font-size="10.5" dx="0.9" dy="-4.7">°</tspan><tspan dx="0.6" dy="4.7">W</tspan></text>
<text x="301.5" y="89.8" text-anchor="middle">176<tspan font-size="10.5" dx="0.9" dy="-4.7">°</tspan><tspan dx="0.6" dy="4.7">W</tspan></text>
<text x="301.5" y="551.6" text-anchor="middle">176<tspan font-size="10.5" dx="0.9" dy="-4.7">°</tspan><tspan dx="0.6" dy="4.7">W</tspan></text>
<text x="409.5" y="89.8" text-anchor="middle">174<tspan font-size="10.5" dx="0.9" dy="-4.7">°</tspan><tspan dx="0.6" dy="4.7">W</tspan></text>
<text x="409.5" y="551.6" text-anchor="middle">174<tspan font-size="10.5" dx="0.9" dy="-4.7">°</tspan><tspan dx="0.6" dy="4.7">W</tspan></text>
<text x="517.5" y="89.8" text-anchor="middle">172<tspan font-size="10.5" dx="0.9" dy="-4.7">°</tspan><tspan dx="0.6" dy="4.7">W</tspan></text>
<text x="517.5" y="551.6" text-anchor="middle">172<tspan font-size="10.5" dx="0.9" dy="-4.7">°</tspan><tspan dx="0.6" dy="4.7">W</tspan></text>
<text x="625.5" y="89.8" text-anchor="middle">170<tspan font-size="10.5" dx="0.9" dy="-4.7">°</tspan><tspan dx="0.6" dy="4.7">W</tspan></text>
<text x="625.5" y="551.6" text-anchor="middle">170<tspan font-size="10.5" dx="0.9" dy="-4.7">°</tspan><tspan dx="0.6" dy="4.7">W</tspan></text>
<text x="61.6" y="147.8" text-anchor="end">17<tspan font-size="10.5" dx="0.9" dy="-4.7">°</tspan><tspan dx="0.6" dy="4.7">S</tspan></text>
<text x="650.1" y="147.8">17<tspan font-size="10.5" dx="0.9" dy="-4.7">°</tspan><tspan dx="0.6" dy="4.7">S</tspan></text>
<text x="61.6" y="204.1" text-anchor="end">18<tspan font-size="10.5" dx="0.9" dy="-4.7">°</tspan><tspan dx="0.6" dy="4.7">S</tspan></text>
<text x="650.1" y="204.1">18<tspan font-size="10.5" dx="0.9" dy="-4.7">°</tspan><tspan dx="0.6" dy="4.7">S</tspan></text>
<text x="61.6" y="260.7" text-anchor="end">19<tspan font-size="10.5" dx="0.9" dy="-4.7">°</tspan><tspan dx="0.6" dy="4.7">S</tspan></text>
<text x="650.1" y="260.7">19<tspan font-size="10.5" dx="0.9" dy="-4.7">°</tspan><tspan dx="0.6" dy="4.7">S</tspan></text>
<text x="61.6" y="317.6" text-anchor="end">20<tspan font-size="10.5" dx="0.9" dy="-4.7">°</tspan><tspan dx="0.6" dy="4.7">S</tspan></text>
<text x="650.1" y="317.6">20<tspan font-size="10.5" dx="0.9" dy="-4.7">°</tspan><tspan dx="0.6" dy="4.7">S</tspan></text>
<text x="61.6" y="374.9" text-anchor="end">21<tspan font-size="10.5" dx="0.9" dy="-4.7">°</tspan><tspan dx="0.6" dy="4.7">S</tspan></text>
<text x="650.1" y="374.9">21<tspan font-size="10.5" dx="0.9" dy="-4.7">°</tspan><tspan dx="0.6" dy="4.7">S</tspan></text>
<text x="61.6" y="432.6" text-anchor="end">22<tspan font-size="10.5" dx="0.9" dy="-4.7">°</tspan><tspan dx="0.6" dy="4.7">S</tspan></text>
<text x="650.1" y="432.6">22<tspan font-size="10.5" dx="0.9" dy="-4.7">°</tspan><tspan dx="0.6" dy="4.7">S</tspan></text>
<text x="61.6" y="490.6" text-anchor="end">23<tspan font-size="10.5" dx="0.9" dy="-4.7">°</tspan><tspan dx="0.6" dy="4.7">S</tspan></text>
<text x="650.1" y="490.6">23<tspan font-size="10.5" dx="0.9" dy="-4.7">°</tspan><tspan dx="0.6" dy="4.7">S</tspan></text>
</g>
<g font-family="'Liberation Sans',sans-serif" font-weight="bold" fill="#000" text-anchor="middle">
<text transform="translate(355.4 57.6) scale(1 1.045)" font-size="48.2">1900 TOT Sat 21 Mar 2026</text>
<text transform="translate(354.9 588) scale(1 1.035)" font-size="39.5">Forecast +168 hr</text>
</g>
<text x="710.5" y="592" text-anchor="end" font-family="'Liberation Sans',sans-serif" font-size="18" fill="#111">IM2</text>
</svg>
</body></html>
